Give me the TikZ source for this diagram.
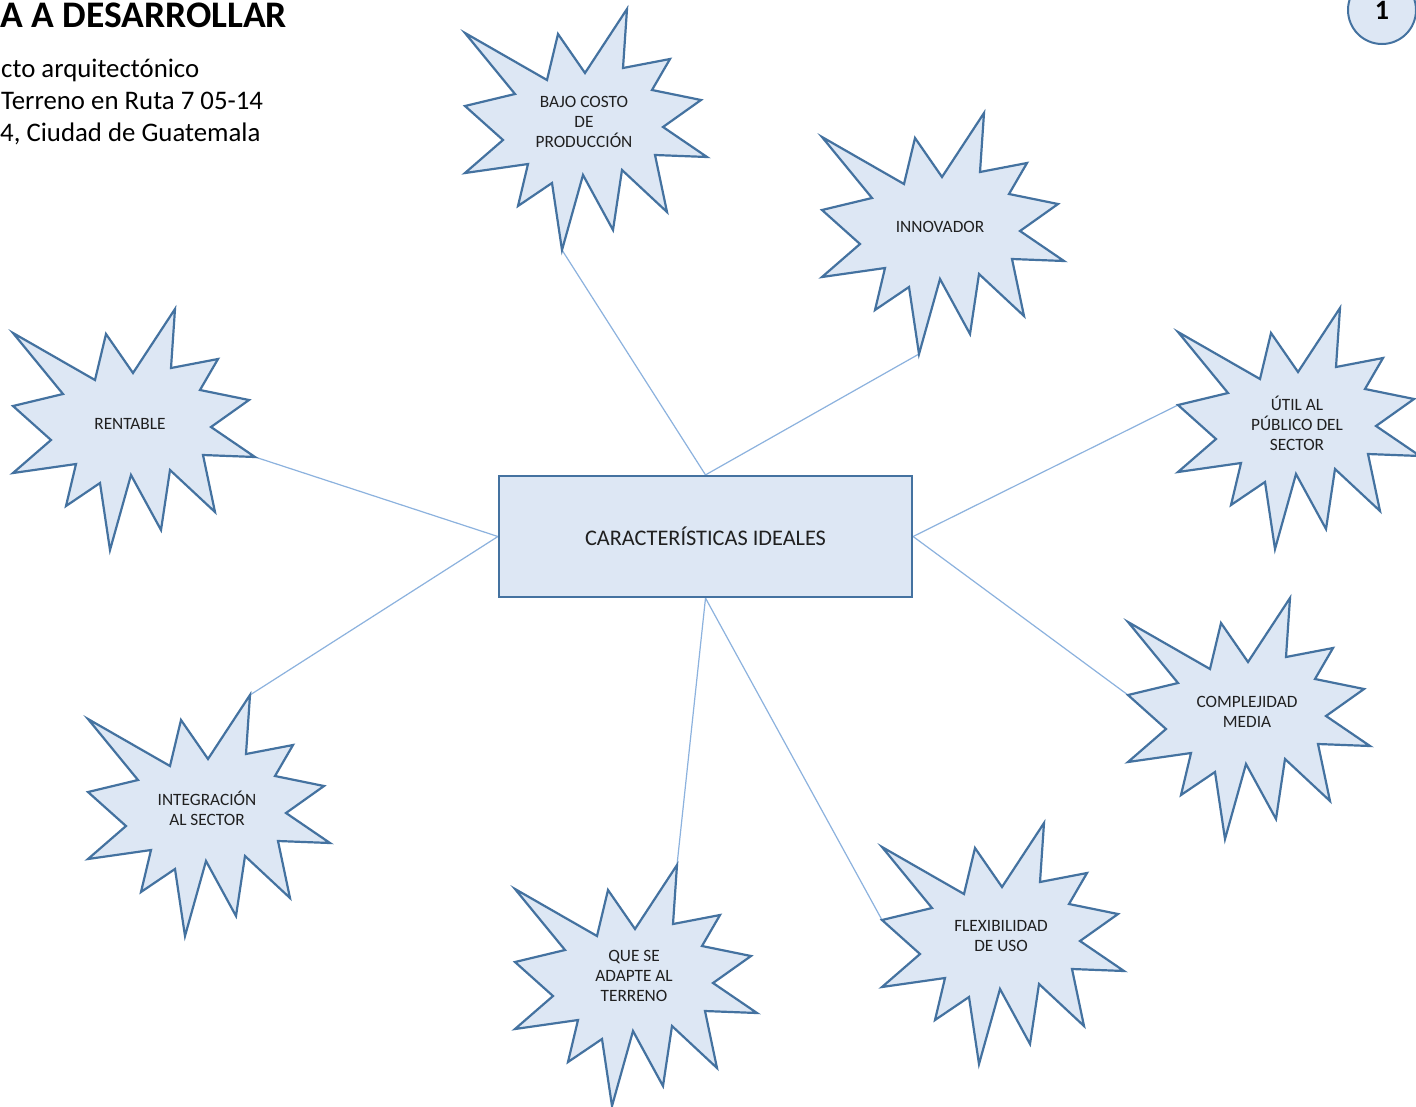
\documentclass[tikz,border=0pt]{standalone}
\usepackage{fontspec}
\setmainfont{Carlito}
\definecolor{burstbg}{RGB}{221,231,244}
\definecolor{burstline}{RGB}{68,114,160}
\definecolor{linkline}{RGB}{140,178,222}
\definecolor{labeltext}{RGB}{32,32,32}
\pgfdeclarelayer{background}
\pgfsetlayers{background,main}
\tikzset{
  burstshape/.style={fill=burstbg, draw=burstline, line width=2.2pt, line join=miter, miter limit=20},
  burstlabel/.style={align=center, text=labeltext, inner sep=0pt,
    font=\fontsize{17.3}{20}\selectfont},
  centerbox/.style={fill=burstbg, draw=burstline, line width=2.2pt,
    minimum width=413pt, minimum height=121pt, inner sep=0pt, text=labeltext,
    font=\fontsize{22.3}{24}\selectfont},
  pagecircle/.style={circle, fill=burstbg, draw=burstline, line width=2pt,
    minimum size=68pt, inner sep=0pt},
  link/.style={draw=linkline, line width=1.2pt},
  burst/.pic={
    \path[burstshape] (-119,-89) -- (-37,-42) -- (-26,-88) -- (1,-49) -- (43,-113)
      -- (39,-54) -- (86,-63) -- (68,-32) -- (117,-22) -- (79,5) -- (123,35)
      -- (71,33) -- (83,90) -- (38,48) -- (29,108) -- (-1,53) -- (-22,128)
      -- (-32,61) -- (-66,84) -- (-56,42) -- (-119,51) -- (-81,18) -- (-119,-16)
      -- (-69,-28) -- cycle;
    \coordinate (-top) at (43,-113);
    \coordinate (-bottom) at (-22,128);
    \coordinate (-left) at (-119,-16);
    \coordinate (-right) at (123,35);
  }
}
\begin{document}
\begin{tikzpicture}[x=1pt,y=-1pt]
\useasboundingbox (0,0) rectangle (1416,1106);
\clip (0,0) rectangle (1416,1106);

% heading block
\node[anchor=base west, inner sep=0pt, font=\bfseries\fontsize{37.5}{40}\selectfont] (title) at (0,27) {A A DESARROLLAR};
\node[anchor=base west, inner sep=0pt, font=\fontsize{26.8}{32}\selectfont] (line1) at (1,77) {cto arquitectónico};
\node[anchor=base west, inner sep=0pt, font=\fontsize{26.8}{32}\selectfont] (line2) at (1,109) {Terreno en Ruta 7 05-14};
\node[anchor=base west, inner sep=0pt, font=\fontsize{26.8}{32}\selectfont] (line3) at (0,141) {4, Ciudad de Guatemala};

% page number
\node[pagecircle, font=\bfseries\fontsize{28}{30}\selectfont] (pagenum) at (1382,10) {\raisebox{-3pt}{1}};

% central box
\node[centerbox] (core) at (705.5,536.5) {CARACTERÍSTICAS IDEALES};

% bursts
\pic (bajo) at (584,122) {burst};
\pic (inno) at (941,226) {burst};
\pic (util) at (1297,421) {burst};
\pic (rent) at (132,422) {burst};
\pic (comp) at (1247,711) {burst};
\pic (integ) at (207,808) {burst};
\pic (adap) at (634,978) {burst};
\pic (flex) at (1001,936) {burst};

\node[burstlabel] (bajoT) at (584,122) {BAJO COSTO\\DE\\PRODUCCIÓN};
\node[burstlabel] (innoT) at (940,227) {INNOVADOR};
\node[burstlabel] (utilT) at (1297,423) {ÚTIL AL\\PÚBLICO DEL\\SECTOR};
\node[burstlabel] (rentT) at (130,424) {RENTABLE};
\node[burstlabel] (compT) at (1247,712) {COMPLEJIDAD\\MEDIA};
\node[burstlabel] (integT) at (207,808) {INTEGRACIÓN\\AL SECTOR};
\node[burstlabel] (adapT) at (634,976) {QUE SE\\ADAPTE AL\\TERRENO};
\node[burstlabel] (flexT) at (1001,936) {FLEXIBILIDAD\\DE USO};

% page background and connectors, behind the shapes
\begin{pgfonlayer}{background}
\fill[white] (0,0) rectangle (1416,1106);
\draw[link] (bajo-bottom) -- (core.north);
\draw[link] (inno-bottom) -- (core.north);
\draw[link] (util-left) -- (core.east);
\draw[link] (comp-left) -- (core.east);
\draw[link] (rent-right) -- (core.west);
\draw[link] (integ-top) -- (core.west);
\draw[link] (adap-top) -- (core.south);
\draw[link] (flex-left) -- (core.south);
\end{pgfonlayer}
\end{tikzpicture}
\end{document}
